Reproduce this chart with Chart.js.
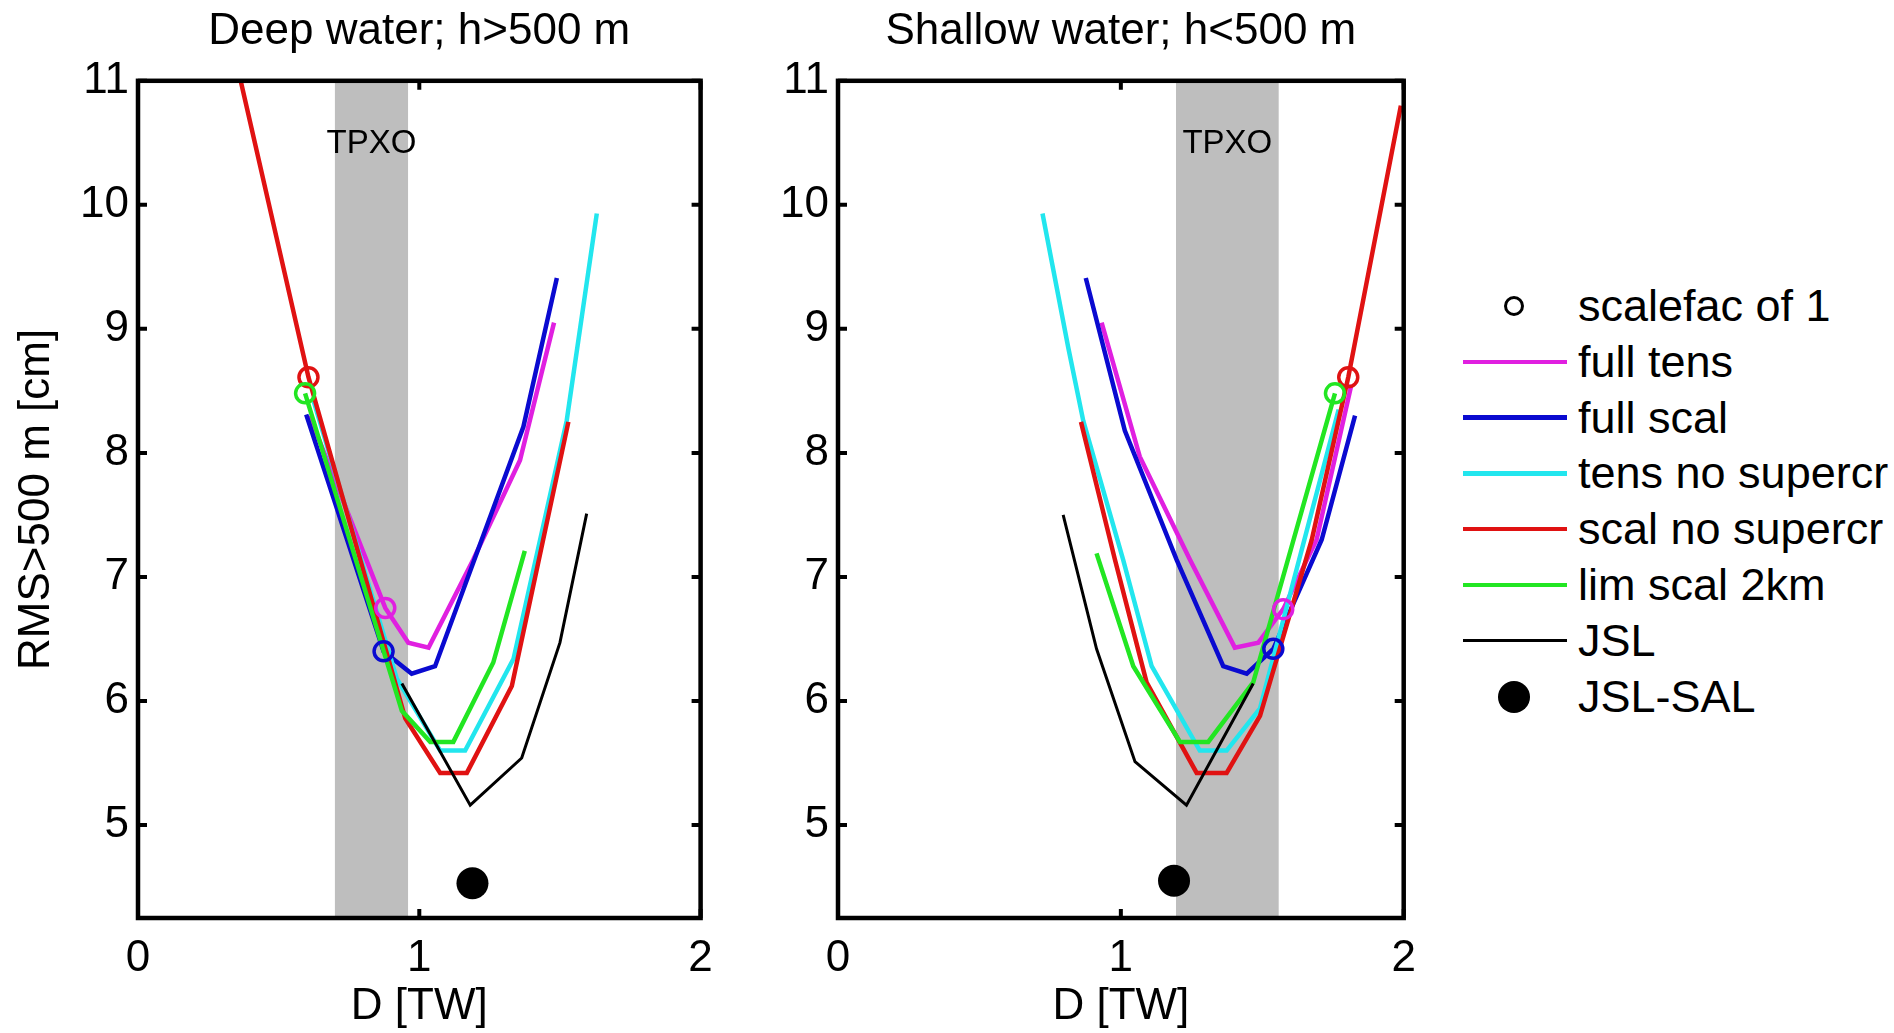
<!DOCTYPE html>
<html>
<head>
<meta charset="utf-8">
<title>RMS vs D</title>
<script src="https://cdn.jsdelivr.net/npm/chart.js@4.4.1/dist/chart.umd.min.js"></script>
<style>
  html, body { margin: 0; padding: 0; background: #fff; }
  body { width: 1894px; height: 1033px; position: relative; overflow: hidden;
         font-family: "Liberation Sans", Arial, sans-serif; }
  canvas { position: absolute; top: 0; }
  #cDeep { left: 0; }
  #cShallow { left: 700px; }
  .row { position: absolute; left: 1455px; height: 56px; width: 430px; }
  .row .txt { position: absolute; left: 123px; top: 0; line-height: 56px; font-size: 45px; color: #000; white-space: nowrap; }
  .row .mk { position: absolute; box-sizing: border-box; }
</style>
</head>
<body>
<canvas id="cDeep" width="720" height="1033"></canvas>
<canvas id="cShallow" width="720" height="1033"></canvas>
<div id="legend"></div>

<script>
// ---- ejes ----
const xTicks = [0, 1, 2];
const yTicks = [5, 6, 7, 8, 9, 10, 11];
const xRange = [0, 2];
const yRange = [4.25, 11];

// ---- Deep water; h>500 m  (puntos [D, RMS]) ----
const deepFullTens  = [[0.61, 8.30], [0.879, 6.75], [0.961, 6.47], [1.033, 6.43], [1.192, 7.14], [1.358, 7.94], [1.479, 9.05]];
const deepFullScal  = [[0.598, 8.31], [0.873, 6.40], [0.973, 6.22], [1.056, 6.28], [1.37, 8.21], [1.489, 9.41]];
const deepTensNoSup = [[0.624, 8.42], [0.92, 6.18], [1.074, 5.60], [1.163, 5.60], [1.335, 6.34], [1.524, 8.26], [1.631, 9.93]];
const deepScalNoSup = [[0.36, 11.05], [0.606, 8.61], [0.95, 5.86], [1.074, 5.42], [1.169, 5.42], [1.329, 6.12], [1.53, 8.25]];
const deepLimScal   = [[0.594, 8.48], [0.938, 5.92], [1.039, 5.67], [1.121, 5.67], [1.263, 6.31], [1.375, 7.21]];
const deepJSL       = [[0.938, 6.14], [1.181, 5.16], [1.364, 5.54], [1.50, 6.47], [1.595, 7.51]];
const deepScalefac  = [[0.879, 6.75], [0.873, 6.40], [0.606, 8.61], [0.594, 8.48]]; // tens, scal, scal no sup, lim
const deepJSLSAL    = [[1.189, 4.53]];
const deepTPXO      = [0.70, 0.96];

// ---- Shallow water; h<500 m ----
const shalFullTens  = [[0.932, 9.05], [1.067, 7.97], [1.244, 7.14], [1.403, 6.43], [1.486, 6.47], [1.574, 6.74], [1.692, 7.30], [1.815, 8.55]];
const shalFullScal  = [[0.876, 9.41], [1.014, 8.18], [1.197, 7.14], [1.362, 6.28], [1.445, 6.22], [1.539, 6.42], [1.71, 7.30], [1.828, 8.30]];
const shalTensNoSup = [[0.723, 9.93], [0.814, 8.85], [0.867, 8.26], [1.008, 7.14], [1.109, 6.28], [1.279, 5.60], [1.374, 5.60], [1.492, 5.94], [1.77, 8.35]];
const shalScalNoSup = [[0.859, 8.25], [0.979, 7.14], [1.091, 6.15], [1.268, 5.42], [1.374, 5.42], [1.492, 5.88], [1.675, 7.30], [1.804, 8.61], [1.99, 10.80]];
const shalLimScal   = [[0.914, 7.19], [1.044, 6.28], [1.209, 5.67], [1.309, 5.67], [1.468, 6.15], [1.757, 8.48]];
const shalJSL       = [[0.796, 7.50], [0.914, 6.42], [1.050, 5.51], [1.232, 5.16], [1.468, 6.14]];
const shalScalefac  = [[1.574, 6.74], [1.539, 6.42], [1.804, 8.61], [1.757, 8.48]];
const shalJSLSAL    = [[1.188, 4.55]];
const shalTPXO      = [1.195, 1.558];

const seriesNames  = ['full tens', 'full scal', 'tens no supercr', 'scal no supercr', 'lim scal 2km', 'JSL'];
const seriesColors = ['#e020e0', '#0a0ad0', '#22e6ee', '#e01212', '#22e622', '#000000'];
const seriesWidths = [4.5, 4.5, 4.5, 4.5, 4.5, 3];
const circleColors = ['#e020e0', '#0a0ad0', '#e01212', '#22e622'];

const FONT = '"Liberation Sans", Arial, sans-serif';
Chart.defaults.font.family = FONT;
Chart.defaults.color = '#000';

const pts = a => a.map(([x, y]) => ({ x, y }));

// banda gris TPXO + marco y ticks hacia dentro (estilo MATLAB)
const axesBox = {
  id: 'axesBox',
  beforeDatasetsDraw(chart, args, opts) {
    const { ctx, chartArea: a, scales: { x, y } } = chart;
    const x0 = x.getPixelForValue(opts.band[0]);
    const x1 = x.getPixelForValue(opts.band[1]);
    ctx.save();
    ctx.fillStyle = '#bebebe';
    ctx.fillRect(x0, a.top, x1 - x0, a.bottom - a.top);
    ctx.fillStyle = '#000';
    ctx.font = '33px ' + FONT;
    ctx.textAlign = 'center';
    ctx.textBaseline = 'middle';
    ctx.fillText(opts.label, (x0 + x1) / 2, y.getPixelForValue(opts.labelY));
    ctx.restore();
  },
  afterDraw(chart) {
    const { ctx, chartArea: a, scales: { x, y } } = chart;
    const tl = 9;
    ctx.save();
    ctx.strokeStyle = '#000';
    ctx.lineWidth = 4;
    ctx.beginPath();
    x.ticks.forEach(t => {
      const px = x.getPixelForValue(t.value);
      ctx.moveTo(px, a.bottom); ctx.lineTo(px, a.bottom - tl);
      ctx.moveTo(px, a.top); ctx.lineTo(px, a.top + tl);
    });
    y.ticks.forEach(t => {
      const py = y.getPixelForValue(t.value);
      ctx.moveTo(a.left, py); ctx.lineTo(a.left + tl, py);
      ctx.moveTo(a.right, py); ctx.lineTo(a.right - tl, py);
    });
    ctx.stroke();
    ctx.lineWidth = 4.5;
    ctx.strokeRect(a.left, a.top, a.right - a.left, a.bottom - a.top);
    ctx.restore();
  }
};

function panel(id, title, lines, circles, dot, band, yTitle, padRight) {
  const datasets = lines.map((l, i) => ({
    label: seriesNames[i], data: pts(l), showLine: true, borderColor: seriesColors[i],
    borderWidth: seriesWidths[i], pointRadius: 0, tension: 0, fill: false, order: 10 - i
  }));
  datasets.push({
    label: 'scalefac of 1', data: pts(circles), showLine: false, pointRadius: 9.5,
    pointBorderWidth: 3.5, pointBorderColor: circleColors, pointBackgroundColor: 'rgba(0,0,0,0)', order: 1
  });
  datasets.push({
    label: 'JSL-SAL', data: pts(dot), showLine: false, pointRadius: 16,
    pointBorderWidth: 0, pointBackgroundColor: '#000', order: 0
  });

  return new Chart(document.getElementById(id), {
    type: 'scatter',
    data: { datasets },
    options: {
      responsive: false, animation: false, events: [],
      layout: { padding: { left: 0, right: padRight, top: 0, bottom: 0 } },
      plugins: {
        legend: { display: false }, tooltip: { enabled: false },
        title: { display: true, text: title, fullSize: false, color: '#000',
                 font: { size: 44, weight: 'normal' }, padding: { top: 5, bottom: 23 } },
        axesBox: { band, label: 'TPXO', labelY: 10.49 }
      },
      scales: {
        x: {
          type: 'linear', min: xRange[0], max: xRange[1],
          afterBuildTicks: s => { s.ticks = xTicks.map(v => ({ value: v })); },
          afterFit: s => { s.height = 115; s.paddingLeft = 0; s.paddingRight = 0; },
          grid: { display: false, drawTicks: false }, border: { display: false },
          ticks: { font: { size: 44 }, color: '#000', padding: 14, maxRotation: 0 },
          title: { display: true, text: 'D [TW]', color: '#000', font: { size: 44 }, padding: { top: 0, bottom: 0 } }
        },
        y: {
          type: 'linear', min: yRange[0], max: yRange[1],
          afterBuildTicks: s => { s.ticks = yTicks.map(v => ({ value: v })); },
          afterFit: s => { s.width = 138; },
          grid: { display: false, drawTicks: false }, border: { display: false },
          ticks: { font: { size: 44 }, color: '#000', padding: 9 },
          title: { display: !!yTitle, text: yTitle || '', color: '#000', font: { size: 44 }, padding: { top: 10, bottom: 0 } }
        }
      }
    },
    plugins: [axesBox]
  });
}

panel('cDeep', 'Deep water; h>500 m',
  [deepFullTens, deepFullScal, deepTensNoSup, deepScalNoSup, deepLimScal, deepJSL],
  deepScalefac, deepJSLSAL, deepTPXO, 'RMS>500 m [cm]', 19.4);

panel('cShallow', 'Shallow water; h<500 m',
  [shalFullTens, shalFullScal, shalTensNoSup, shalScalNoSup, shalLimScal, shalJSL],
  shalScalefac, shalJSLSAL, shalTPXO, null, 16.3);

// ---- leyenda (HTML) ----
const legendRows = [{ name: 'scalefac of 1', kind: 'circle' }]
  .concat(seriesNames.map((n, i) => ({ name: n, kind: 'line', color: seriesColors[i], w: seriesWidths[i] })))
  .concat([{ name: 'JSL-SAL', kind: 'dot' }]);
const legendTop = 306, legendStep = 55.8;
const leg = document.getElementById('legend');
legendRows.forEach((r, i) => {
  const row = document.createElement('div');
  row.className = 'row';
  row.style.top = (legendTop + i * legendStep - 28) + 'px';
  const mk = document.createElement('div');
  mk.className = 'mk';
  if (r.kind === 'line') {
    Object.assign(mk.style, { left: '8px', width: '104px', top: (28 - r.w / 2) + 'px', height: r.w + 'px', background: r.color });
  } else if (r.kind === 'circle') {
    Object.assign(mk.style, { left: '49px', width: '20px', height: '20px', top: '18px', border: '3.5px solid #000', borderRadius: '50%' });
  } else {
    Object.assign(mk.style, { left: '43px', width: '32px', height: '32px', top: '12px', background: '#000', borderRadius: '50%' });
  }
  const txt = document.createElement('div');
  txt.className = 'txt';
  txt.textContent = r.name;
  row.appendChild(mk);
  row.appendChild(txt);
  leg.appendChild(row);
});
</script>
</body>
</html>
